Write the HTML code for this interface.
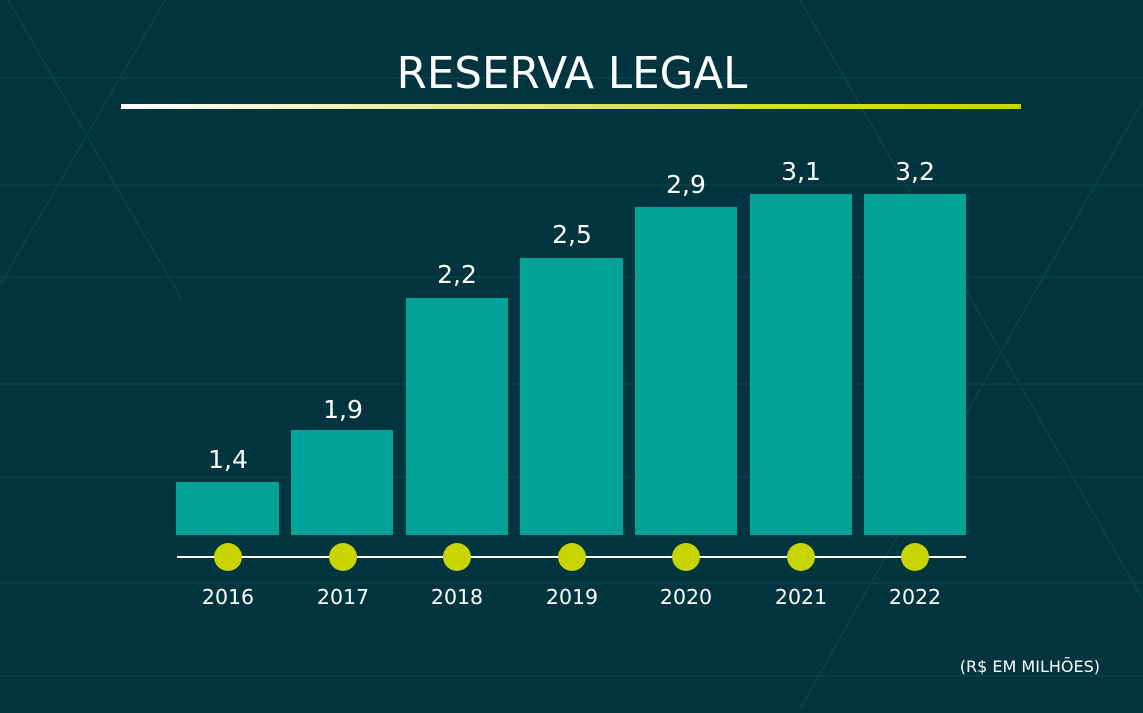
<!DOCTYPE html>
<html><head><meta charset="utf-8"><style>
body{margin:0;width:1143px;height:709px;overflow:hidden;background:#003540;font-family:"DejaVu Sans","Liberation Sans",sans-serif;}
</style></head><body>
<svg width="1143" height="709" xmlns="http://www.w3.org/2000/svg">
<defs><linearGradient id="g" x1="0" x2="1"><stop offset="0" stop-color="#ffffff"/><stop offset="0.5" stop-color="#dfe36a"/><stop offset="1" stop-color="#c8d400"/></linearGradient></defs>
<rect width="1143" height="709" fill="#003540"/>
<g stroke="#0a4650" stroke-width="1.2" fill="none">
<line x1="0" y1="78" x2="1143" y2="78"/><line x1="0" y1="185" x2="1143" y2="185"/>
<line x1="0" y1="277" x2="1143" y2="277"/><line x1="0" y1="384" x2="1143" y2="384"/>
<line x1="0" y1="477" x2="1143" y2="477"/><line x1="0" y1="583" x2="1143" y2="583"/>
<line x1="0" y1="676" x2="1143" y2="676"/>
<line x1="8" y1="0" x2="182" y2="300"/><line x1="165" y1="0" x2="0" y2="285"/>
<line x1="800" y1="0" x2="1143" y2="600"/><line x1="1143" y1="100" x2="800" y2="709"/>
</g>
<text x="572" y="88" text-anchor="middle" fill="#fff" font-size="43.5" font-family="DejaVu Sans,Liberation Sans,sans-serif">RESERVA LEGAL</text>
<rect x="121" y="104" width="900" height="5" fill="url(#g)"/>
<g fill="#00a396">
<rect x="176" y="482" width="103" height="53"/>
<rect x="291" y="430" width="102" height="105"/>
<rect x="406" y="298" width="102" height="237"/>
<rect x="520" y="258" width="103" height="277"/>
<rect x="635" y="207" width="102" height="328"/>
<rect x="750" y="194" width="102" height="341"/>
<rect x="864" y="194" width="102" height="341"/>
</g>
<line x1="177" y1="557" x2="966" y2="557" stroke="#fff" stroke-width="2"/>
<g fill="#c8d400">
<circle cx="228" cy="557" r="14"/><circle cx="343" cy="557" r="14"/><circle cx="457" cy="557" r="14"/><circle cx="572" cy="557" r="14"/><circle cx="686" cy="557" r="14"/><circle cx="801" cy="557" r="14"/><circle cx="915" cy="557" r="14"/>
</g>
<g fill="#fff" font-size="25" text-anchor="middle">
<text x="228" y="468">1,4</text><text x="343" y="418">1,9</text><text x="457" y="283">2,2</text><text x="572" y="243">2,5</text><text x="686" y="193">2,9</text><text x="801" y="180">3,1</text><text x="915" y="180">3,2</text>
</g>
<g fill="#fff" font-size="20.5" text-anchor="middle">
<text x="228" y="604">2016</text><text x="343" y="604">2017</text><text x="457" y="604">2018</text><text x="572" y="604">2019</text><text x="686" y="604">2020</text><text x="801" y="604">2021</text><text x="915" y="604">2022</text>
</g>
<text x="1100" y="672" text-anchor="end" fill="#fff" font-size="16">(R$ EM MILHÕES)</text>
</svg>
</body></html>
